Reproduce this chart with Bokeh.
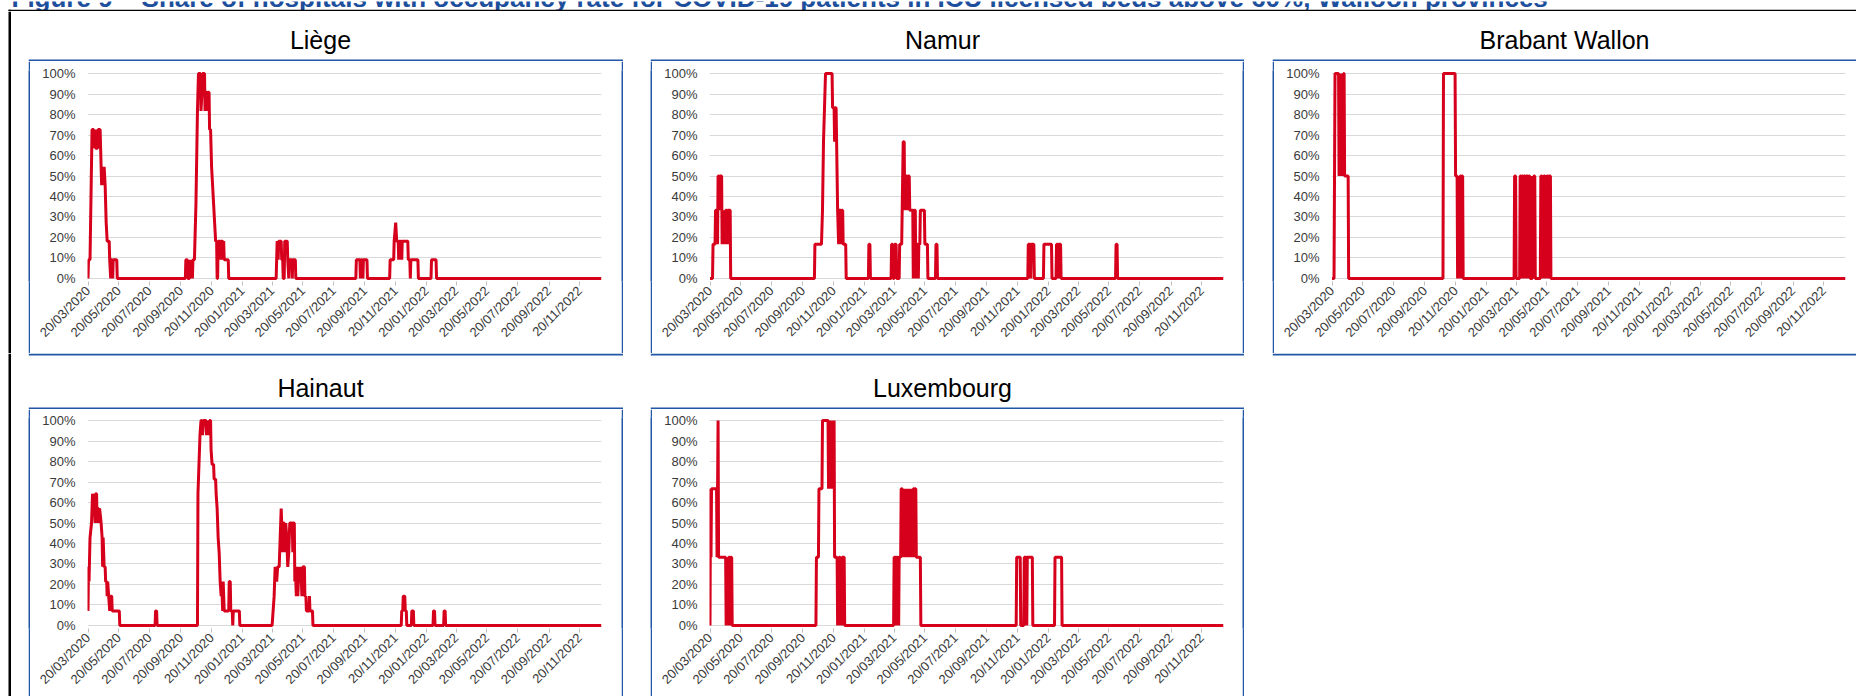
import math
import pandas as pd
from bokeh.plotting import figure
from bokeh.models import (Range1d, FixedTicker, DatetimeTickFormatter, PrintfTickFormatter,
                          BoxAnnotation, Label, ColumnDataSource, Spacer)
from bokeh.layouts import column, row
from bokeh.embed import file_html
from bokeh.resources import INLINE
from bokeh.core.validation import silence
from bokeh.core.validation.warnings import MISSING_RENDERERS

silence(MISSING_RENDERERS, True)

TITLE = ("Figure 9 \u2013 Share of hospitals with occupancy rate for COVID-19 patients "
         "in ICU licensed beds above 60%, Walloon provinces")

TICK_DATES = ["2020-03-20", "2020-05-20", "2020-07-20", "2020-09-20", "2020-11-20",
              "2021-01-20", "2021-03-20", "2021-05-20", "2021-07-20", "2021-09-20",
              "2021-11-20", "2022-01-20", "2022-03-20", "2022-05-20", "2022-07-20",
              "2022-09-20", "2022-11-20"]
Y_TICKS = [0, 10, 20, 30, 40, 50, 60, 70, 80, 90, 100]
X_START, X_END = "2020-03-19", "2023-01-02"

LIEGE = [
    ("2020-03-20", 0), ("2020-03-21", 9.1), ("2020-03-24", 9.1), ("2020-03-28", 72.7), ("2020-03-31", 72.7),
    ("2020-04-01", 63.6), ("2020-04-03", 72.7), ("2020-04-04", 63.6), ("2020-04-08", 63.6), ("2020-04-09", 72.7),
    ("2020-04-13", 72.7), ("2020-04-14", 63.6), ("2020-04-15", 54.5), ("2020-04-16", 45.5), ("2020-04-18", 54.5),
    ("2020-04-19", 45.5), ("2020-04-21", 54.5), ("2020-04-23", 45.5), ("2020-04-25", 27.3), ("2020-04-27", 18.2),
    ("2020-05-01", 18.2), ("2020-05-02", 9.1), ("2020-05-04", 0), ("2020-05-05", 9.1), ("2020-05-07", 9.1),
    ("2020-05-08", 0), ("2020-05-09", 9.1), ("2020-05-16", 9.1), ("2020-05-17", 0),
    ("2020-09-29", 0), ("2020-09-30", 9.1), ("2020-10-03", 9.1), ("2020-10-04", 0), ("2020-10-07", 0),
    ("2020-10-08", 9.1), ("2020-10-10", 0), ("2020-10-12", 9.1), ("2020-10-13", 0), ("2020-10-14", 9.1),
    ("2020-10-17", 9.1), ("2020-10-20", 36.4), ("2020-10-23", 81.8), ("2020-10-25", 100), ("2020-10-29", 100),
    ("2020-10-30", 81.8), ("2020-11-01", 90.9), ("2020-11-02", 100), ("2020-11-06", 100), ("2020-11-07", 81.8),
    ("2020-11-08", 90.9), ("2020-11-11", 90.9), ("2020-11-12", 81.8), ("2020-11-13", 90.9), ("2020-11-15", 90.9),
    ("2020-11-16", 72.7), ("2020-11-18", 72.7), ("2020-11-20", 54.5), ("2020-11-22", 45.5), ("2020-11-24", 36.4),
    ("2020-11-26", 27.3), ("2020-11-28", 18.2), ("2020-11-30", 18.2), ("2020-12-01", 0), ("2020-12-02", 0),
    ("2020-12-03", 18.2), ("2020-12-06", 18.2), ("2020-12-07", 9.1), ("2020-12-08", 18.2), ("2020-12-12", 18.2),
    ("2020-12-13", 9.1), ("2020-12-14", 18.2), ("2020-12-15", 9.1), ("2020-12-23", 9.1), ("2020-12-24", 0),
    ("2021-03-28", 0), ("2021-03-30", 18.2), ("2021-04-01", 9.1), ("2021-04-02", 18.2), ("2021-04-07", 18.2),
    ("2021-04-08", 9.1), ("2021-04-10", 9.1), ("2021-04-11", 0), ("2021-04-13", 0), ("2021-04-14", 18.2),
    ("2021-04-19", 18.2), ("2021-04-20", 9.1), ("2021-04-22", 0), ("2021-04-23", 9.1), ("2021-04-28", 9.1),
    ("2021-04-29", 0), ("2021-04-30", 9.1), ("2021-05-05", 9.1), ("2021-05-06", 0),
    ("2021-09-02", 0), ("2021-09-03", 9.1), ("2021-09-10", 9.1), ("2021-09-11", 0), ("2021-09-12", 9.1),
    ("2021-09-15", 9.1), ("2021-09-16", 0), ("2021-09-17", 9.1), ("2021-09-24", 9.1), ("2021-09-25", 0),
    ("2021-11-08", 0), ("2021-11-09", 9.1), ("2021-11-16", 9.1), ("2021-11-17", 18.2), ("2021-11-20", 27.3),
    ("2021-11-22", 18.2), ("2021-11-25", 18.2), ("2021-11-26", 9.1), ("2021-11-27", 18.2), ("2021-12-01", 18.2),
    ("2021-12-02", 9.1), ("2021-12-03", 18.2), ("2021-12-14", 18.2), ("2021-12-15", 9.1), ("2021-12-18", 9.1),
    ("2021-12-19", 0), ("2021-12-20", 9.1), ("2022-01-03", 9.1), ("2022-01-04", 0),
    ("2022-01-29", 0), ("2022-01-30", 9.1), ("2022-02-08", 9.1), ("2022-02-09", 0),
    ("2023-01-02", 0),
]

NAMUR = [
    ("2020-03-20", 0), ("2020-03-25", 0), ("2020-03-26", 16.7), ("2020-03-30", 16.7), ("2020-03-31", 33.3),
    ("2020-04-03", 33.3), ("2020-04-04", 16.7), ("2020-04-05", 50), ("2020-04-07", 50), ("2020-04-08", 33.3),
    ("2020-04-09", 50), ("2020-04-12", 50), ("2020-04-13", 16.7), ("2020-04-14", 33.3), ("2020-04-16", 16.7),
    ("2020-04-17", 33.3), ("2020-04-19", 16.7), ("2020-04-20", 33.3), ("2020-04-23", 33.3), ("2020-04-24", 16.7),
    ("2020-04-25", 33.3), ("2020-04-29", 33.3), ("2020-04-30", 0),
    ("2020-10-13", 0), ("2020-10-14", 16.7), ("2020-10-27", 16.7), ("2020-10-29", 33.3), ("2020-10-31", 66.7),
    ("2020-11-02", 83.3), ("2020-11-04", 100), ("2020-11-17", 100), ("2020-11-18", 83.3), ("2020-11-21", 83.3),
    ("2020-11-22", 66.7), ("2020-11-23", 83.3), ("2020-11-25", 83.3), ("2020-11-27", 50), ("2020-11-28", 33.3),
    ("2020-11-30", 16.7), ("2020-12-01", 33.3), ("2020-12-04", 33.3), ("2020-12-05", 16.7), ("2020-12-06", 33.3),
    ("2020-12-08", 33.3), ("2020-12-09", 16.7), ("2020-12-14", 16.7), ("2020-12-15", 0),
    ("2021-01-28", 0), ("2021-01-29", 16.7), ("2021-01-31", 16.7), ("2021-02-01", 0),
    ("2021-03-14", 0), ("2021-03-15", 16.7), ("2021-03-17", 16.7), ("2021-03-18", 0), ("2021-03-20", 0),
    ("2021-03-21", 16.7), ("2021-03-24", 16.7), ("2021-03-25", 0),
    ("2021-03-30", 0), ("2021-03-31", 16.7), ("2021-04-04", 16.7), ("2021-04-05", 33.3), ("2021-04-07", 66.7),
    ("2021-04-09", 66.7), ("2021-04-10", 33.3), ("2021-04-11", 50), ("2021-04-14", 50), ("2021-04-15", 33.3),
    ("2021-04-16", 50), ("2021-04-19", 50), ("2021-04-20", 33.3), ("2021-04-26", 33.3), ("2021-04-27", 0),
    ("2021-04-28", 33.3), ("2021-05-01", 33.3), ("2021-05-02", 0), ("2021-05-03", 16.7), ("2021-05-06", 16.7),
    ("2021-05-07", 0), ("2021-05-08", 16.7), ("2021-05-10", 16.7), ("2021-05-11", 33.3), ("2021-05-19", 33.3),
    ("2021-05-20", 16.7), ("2021-05-25", 16.7), ("2021-05-26", 0),
    ("2021-06-10", 0), ("2021-06-11", 16.7), ("2021-06-13", 16.7), ("2021-06-14", 0),
    ("2021-12-10", 0), ("2021-12-11", 16.7), ("2021-12-15", 16.7), ("2021-12-16", 0), ("2021-12-17", 16.7),
    ("2021-12-22", 16.7), ("2021-12-23", 0),
    ("2022-01-10", 0), ("2022-01-11", 16.7), ("2022-01-26", 16.7), ("2022-01-27", 0),
    ("2022-02-04", 0), ("2022-02-05", 16.7), ("2022-02-07", 16.7), ("2022-02-08", 0), ("2022-02-09", 16.7),
    ("2022-02-13", 16.7), ("2022-02-14", 0),
    ("2022-06-02", 0), ("2022-06-03", 16.7), ("2022-06-05", 16.7), ("2022-06-06", 0),
    ("2023-01-02", 0),
]

BRABANT_WALLON = [
    ("2020-03-20", 0), ("2020-03-24", 0), ("2020-03-25", 50), ("2020-03-26", 100), ("2020-04-02", 100),
    ("2020-04-03", 50), ("2020-04-04", 100), ("2020-04-05", 50), ("2020-04-06", 100), ("2020-04-07", 50),
    ("2020-04-08", 100), ("2020-04-09", 50), ("2020-04-10", 100), ("2020-04-11", 50), ("2020-04-12", 100),
    ("2020-04-13", 100), ("2020-04-14", 50), ("2020-04-21", 50), ("2020-04-22", 0),
    ("2020-10-26", 0), ("2020-10-27", 100), ("2020-11-19", 100), ("2020-11-20", 50), ("2020-11-23", 50),
    ("2020-11-24", 0), ("2020-11-25", 50), ("2020-11-26", 0), ("2020-11-27", 50), ("2020-11-28", 0),
    ("2020-11-29", 50), ("2020-11-30", 50), ("2020-12-01", 0), ("2020-12-02", 50), ("2020-12-04", 50),
    ("2020-12-05", 0),
    ("2021-03-16", 0), ("2021-03-17", 50), ("2021-03-19", 50), ("2021-03-20", 0), ("2021-03-27", 0),
    ("2021-03-28", 50), ("2021-03-30", 50), ("2021-03-31", 0), ("2021-04-01", 50), ("2021-04-03", 50),
    ("2021-04-04", 0), ("2021-04-05", 50), ("2021-04-07", 50), ("2021-04-08", 0), ("2021-04-09", 50),
    ("2021-04-12", 50), ("2021-04-13", 0), ("2021-04-14", 50), ("2021-04-16", 50), ("2021-04-17", 0),
    ("2021-04-21", 0), ("2021-04-22", 50), ("2021-04-23", 0), ("2021-04-24", 50), ("2021-04-26", 50),
    ("2021-04-27", 0), ("2021-05-07", 0), ("2021-05-08", 50), ("2021-05-10", 50), ("2021-05-11", 0),
    ("2021-05-12", 50), ("2021-05-13", 0), ("2021-05-14", 50), ("2021-05-16", 50), ("2021-05-17", 0),
    ("2021-05-18", 50), ("2021-05-19", 0), ("2021-05-20", 50), ("2021-05-22", 50), ("2021-05-23", 0),
    ("2021-05-24", 50), ("2021-05-27", 50), ("2021-05-28", 0),
    ("2023-01-02", 0),
]

HAINAUT = [
    ("2020-03-20", 7.1), ("2020-03-21", 28.6), ("2020-03-22", 21.4), ("2020-03-24", 42.9), ("2020-03-27", 50),
    ("2020-03-29", 64.3), ("2020-03-31", 57.1), ("2020-04-01", 64.3), ("2020-04-03", 50), ("2020-04-04", 64.3),
    ("2020-04-06", 64.3), ("2020-04-07", 50), ("2020-04-08", 57.1), ("2020-04-10", 57.1), ("2020-04-11", 50),
    ("2020-04-12", 57.1), ("2020-04-15", 50), ("2020-04-17", 42.9), ("2020-04-18", 28.6), ("2020-04-19", 42.9),
    ("2020-04-21", 28.6), ("2020-04-23", 28.6), ("2020-04-24", 21.4), ("2020-04-26", 21.4), ("2020-04-27", 14.3),
    ("2020-04-28", 21.4), ("2020-04-30", 14.3), ("2020-05-02", 7.1), ("2020-05-04", 14.3), ("2020-05-06", 14.3),
    ("2020-05-07", 7.1), ("2020-05-21", 7.1), ("2020-05-22", 0),
    ("2020-07-31", 0), ("2020-08-01", 7.1), ("2020-08-03", 7.1), ("2020-08-04", 0),
    ("2020-10-23", 0), ("2020-10-24", 64.3), ("2020-10-26", 78.6), ("2020-10-28", 92.9), ("2020-10-30", 100),
    ("2020-11-01", 100), ("2020-11-02", 92.9), ("2020-11-04", 100), ("2020-11-09", 100), ("2020-11-10", 92.9),
    ("2020-11-12", 100), ("2020-11-14", 92.9), ("2020-11-16", 100), ("2020-11-18", 100), ("2020-11-19", 85.7),
    ("2020-11-21", 78.6), ("2020-11-24", 78.6), ("2020-11-25", 71.4), ("2020-11-28", 71.4), ("2020-11-29", 64.3),
    ("2020-12-01", 57.1), ("2020-12-03", 42.9), ("2020-12-05", 35.7), ("2020-12-07", 21.4), ("2020-12-09", 14.3),
    ("2020-12-10", 21.4), ("2020-12-12", 7.1), ("2020-12-13", 21.4), ("2020-12-14", 14.3), ("2020-12-15", 7.1),
    ("2020-12-24", 7.1), ("2020-12-25", 21.4), ("2020-12-27", 21.4), ("2020-12-28", 7.1), ("2020-12-31", 7.1),
    ("2021-01-01", 0), ("2021-01-02", 7.1), ("2021-01-14", 7.1), ("2021-01-15", 0),
    ("2021-03-20", 0), ("2021-03-22", 7.1), ("2021-03-24", 14.3), ("2021-03-26", 28.6), ("2021-03-29", 21.4),
    ("2021-03-31", 28.6), ("2021-04-03", 28.6), ("2021-04-05", 42.9), ("2021-04-07", 57.1), ("2021-04-08", 50),
    ("2021-04-09", 35.7), ("2021-04-11", 50), ("2021-04-13", 50), ("2021-04-14", 35.7), ("2021-04-16", 50),
    ("2021-04-18", 42.9), ("2021-04-20", 28.6), ("2021-04-22", 35.7), ("2021-04-24", 50), ("2021-04-29", 50),
    ("2021-04-30", 35.7), ("2021-05-01", 50), ("2021-05-03", 50), ("2021-05-04", 21.4), ("2021-05-05", 28.6),
    ("2021-05-07", 14.3), ("2021-05-08", 28.6), ("2021-05-10", 14.3), ("2021-05-12", 28.6), ("2021-05-14", 21.4),
    ("2021-05-16", 28.6), ("2021-05-18", 14.3), ("2021-05-20", 28.6), ("2021-05-23", 28.6), ("2021-05-24", 14.3),
    ("2021-05-26", 14.3), ("2021-05-27", 7.1), ("2021-06-01", 7.1), ("2021-06-02", 14.3), ("2021-06-03", 7.1),
    ("2021-06-08", 7.1), ("2021-06-09", 0),
    ("2021-12-01", 0), ("2021-12-02", 7.1), ("2021-12-04", 7.1), ("2021-12-05", 14.3), ("2021-12-08", 14.3),
    ("2021-12-09", 7.1), ("2021-12-11", 7.1), ("2021-12-12", 0), ("2021-12-21", 0), ("2021-12-22", 7.1),
    ("2021-12-25", 7.1), ("2021-12-26", 0),
    ("2022-02-02", 0), ("2022-02-03", 7.1), ("2022-02-05", 7.1), ("2022-02-06", 0),
    ("2022-02-23", 0), ("2022-02-24", 7.1), ("2022-02-26", 7.1), ("2022-02-27", 0),
    ("2023-01-02", 0),
]

LUXEMBOURG = [
    ("2020-03-20", 0), ("2020-03-21", 66.7), ("2020-03-22", 33.3), ("2020-03-23", 66.7), ("2020-04-02", 66.7),
    ("2020-04-03", 33.3), ("2020-04-05", 100), ("2020-04-06", 33.3), ("2020-04-20", 33.3), ("2020-04-21", 0),
    ("2020-04-22", 33.3), ("2020-04-23", 0), ("2020-04-24", 33.3), ("2020-04-25", 0), ("2020-04-26", 33.3),
    ("2020-04-28", 33.3), ("2020-04-29", 0), ("2020-04-30", 33.3), ("2020-05-02", 33.3), ("2020-05-03", 0),
    ("2020-10-16", 0), ("2020-10-17", 33.3), ("2020-10-21", 33.3), ("2020-10-22", 66.7), ("2020-10-28", 66.7),
    ("2020-10-29", 100), ("2020-11-09", 100), ("2020-11-10", 66.7), ("2020-11-11", 100), ("2020-11-12", 66.7),
    ("2020-11-13", 100), ("2020-11-14", 66.7), ("2020-11-15", 100), ("2020-11-16", 66.7), ("2020-11-17", 100),
    ("2020-11-18", 66.7), ("2020-11-19", 100), ("2020-11-20", 66.7), ("2020-11-21", 100), ("2020-11-22", 33.3),
    ("2020-11-27", 33.3), ("2020-11-28", 0), ("2020-11-29", 33.3), ("2020-11-30", 0), ("2020-12-01", 33.3),
    ("2020-12-03", 33.3), ("2020-12-04", 0), ("2020-12-05", 33.3), ("2020-12-06", 0), ("2020-12-07", 33.3),
    ("2020-12-11", 33.3), ("2020-12-12", 0),
    ("2021-03-19", 0), ("2021-03-20", 33.3), ("2021-03-23", 33.3), ("2021-03-24", 0), ("2021-03-25", 33.3),
    ("2021-03-28", 33.3), ("2021-03-29", 0), ("2021-03-30", 33.3), ("2021-04-02", 33.3), ("2021-04-03", 66.7),
    ("2021-04-05", 66.7), ("2021-04-06", 33.3), ("2021-04-07", 66.7), ("2021-04-08", 33.3), ("2021-04-09", 66.7),
    ("2021-04-10", 33.3), ("2021-04-11", 66.7), ("2021-04-12", 33.3), ("2021-04-13", 66.7), ("2021-04-14", 33.3),
    ("2021-04-15", 66.7), ("2021-04-16", 33.3), ("2021-04-17", 66.7), ("2021-04-18", 33.3), ("2021-04-19", 66.7),
    ("2021-04-20", 33.3), ("2021-04-21", 66.7), ("2021-04-22", 33.3), ("2021-04-23", 66.7), ("2021-04-24", 33.3),
    ("2021-04-25", 66.7), ("2021-04-26", 33.3), ("2021-04-27", 66.7), ("2021-04-29", 66.7), ("2021-04-30", 33.3),
    ("2021-05-01", 66.7), ("2021-05-02", 66.7), ("2021-05-03", 33.3), ("2021-05-11", 33.3), ("2021-05-12", 0),
    ("2021-11-17", 0), ("2021-11-18", 33.3), ("2021-11-25", 33.3), ("2021-11-26", 0), ("2021-12-02", 0),
    ("2021-12-03", 33.3), ("2021-12-07", 33.3), ("2021-12-08", 0), ("2021-12-09", 33.3), ("2021-12-19", 33.3),
    ("2021-12-20", 0),
    ("2022-02-01", 0), ("2022-02-02", 33.3), ("2022-02-15", 33.3), ("2022-02-16", 0),
    ("2023-01-02", 0),
]

TITLE_BLUE = "#1d4f9c"
BOX_BLUE = "#2157a5"
RED = "#d6001c"
GRID = "#d9d9d9"
LABEL = "#3a3a3a"
FONT = "Liberation Sans"
LABEL_SHIFT = 10  # Label text sits this much below its y in the SVG output

TICKS_MS = [pd.Timestamp(d).value // 10**6 for d in TICK_DATES]


def blank(w, h, fill="white"):
    f = figure(width=w, height=h, title=None, x_axis_type=None, y_axis_type=None,
               x_range=Range1d(0, w), y_range=Range1d(h, 0),
               output_backend="svg", toolbar_location=None, min_border=0)
    f.outline_line_color = None
    f.xgrid.grid_line_color = None
    f.ygrid.grid_line_color = None
    f.background_fill_color = fill
    f.border_fill_color = fill
    return f


def bar(f, left, right, top, bottom, color):
    f.add_layout(BoxAnnotation(left=left, right=right, top=top, bottom=bottom,
                               left_units="canvas", right_units="canvas",
                               top_units="canvas", bottom_units="canvas",
                               fill_color=color, fill_alpha=1, line_color=None))


def make_plot(series, width, height, ml, mr, mt, mb):
    dates = pd.to_datetime([d for d, _ in series])
    vals = [v for _, v in series]
    src = ColumnDataSource(data=dict(x=dates, y=vals))
    p = figure(width=width, height=height, x_axis_type="datetime", title=None,
               x_range=Range1d(pd.Timestamp(X_START), pd.Timestamp(X_END)),
               y_range=Range1d(-1.5, 101.5),
               output_backend="svg", toolbar_location=None,
               min_border_left=ml, min_border_right=mr,
               min_border_top=mt, min_border_bottom=mb)
    p.line("x", "y", source=src, line_color=RED, line_width=3)

    p.xaxis.ticker = FixedTicker(ticks=TICKS_MS, minor_ticks=[])
    p.xaxis.formatter = DatetimeTickFormatter(days="%d/%m/%Y", months="%d/%m/%Y", years="%d/%m/%Y")
    p.xaxis.major_label_orientation = math.pi / 4
    p.xaxis.major_label_text_font = FONT
    p.xaxis.major_label_text_font_size = "13px"
    p.xaxis.major_label_text_color = LABEL
    p.xaxis.axis_line_color = None
    p.xaxis.major_tick_line_color = "#bfbfbf"
    p.xaxis.major_tick_out = 4
    p.xaxis.major_tick_in = 0
    p.xaxis.minor_tick_line_color = None
    p.xaxis.major_label_standoff = 3

    p.yaxis.ticker = FixedTicker(ticks=Y_TICKS, minor_ticks=[])
    p.yaxis.formatter = PrintfTickFormatter(format="%d%%")
    p.yaxis.major_label_text_font = FONT
    p.yaxis.major_label_text_font_size = "13px"
    p.yaxis.major_label_text_color = LABEL
    p.yaxis.axis_line_color = None
    p.yaxis.major_tick_line_color = None
    p.yaxis.major_tick_out = 0
    p.yaxis.major_tick_in = 0
    p.yaxis.minor_tick_line_color = None
    p.yaxis.major_label_standoff = 12

    p.xgrid.grid_line_color = None
    p.ygrid.grid_line_color = GRID
    p.outline_line_color = None
    return p


def title_fig(name, w, h, baseline, closes_above=False):
    t = blank(w, h)
    if name:
        t.add_layout(Label(x=292, y=baseline - LABEL_SHIFT, x_units="canvas", y_units="canvas",
                           text=name, text_align="center", text_baseline="alphabetic",
                           text_font=FONT, text_font_size="25px", text_color="black"))
        # top edge of this panel's box
        bar(t, 0, w, h - 2, h, BOX_BLUE)
    if closes_above:
        # bottom edge of the box in the row above
        bar(t, 0, w, 0, 2, BOX_BLUE)
    return t


def panel(name, series, outer_w, title_h, baseline, mid_h, right_side, closes_above, ml, mr, mt, mb):
    inner_w = outer_w - 2 - (2 if right_side else 0)
    t = title_fig(name, outer_w, title_h, baseline, closes_above)
    p = make_plot(series, inner_w, mid_h, ml, mr, mt, mb)
    mid = [blank(2, mid_h, BOX_BLUE), p]
    if right_side:
        mid.append(blank(2, mid_h, BOX_BLUE))
    return column(t, row(*mid, spacing=0), spacing=0)


header = blank(1856, 11)
header.add_layout(Label(x=11, y=6.5 - LABEL_SHIFT, x_units="canvas", y_units="canvas", text=TITLE,
                        text_align="left", text_baseline="alphabetic", text_font=FONT,
                        text_font_size="26px", text_font_style="bold", text_color=TITLE_BLUE))
bar(header, 8, 1856, 8.3, 10.5, "black")
bar(header, 8, 10.5, 8.3, 11, "black")

strip1 = blank(28, 342)
bar(strip1, 8, 10.5, 0, 342, "black")
strip2 = blank(28, 343)
bar(strip2, 8, 10.5, 0, 343, "black")

# upper row: title block 50 (incl. box top edge), box body 292
c_liege = panel("Liège", LIEGE, 595, 50, 38.3, 292, True, False, 57, 20, 9, 72)
c_namur = panel("Namur", NAMUR, 594, 50, 38.3, 292, True, False, 57, 19, 9, 72)
c_brabant = panel("Brabant Wallon", BRABANT_WALLON, 584, 50, 38.3, 292, False, False, 57, 11, 9, 72)
# lower row: title block 56 (closes the upper boxes, opens these), body runs past the bottom edge
c_hainaut = panel("Hainaut", HAINAUT, 595, 56, 44.3, 287, True, True, 57, 20, 8, 68)
c_lux = panel("Luxembourg", LUXEMBOURG, 594, 56, 44.3, 287, True, True, 57, 19, 8, 68)
closer = title_fig("", 584, 56, 44.3, True)

row1 = row(strip1, c_liege, Spacer(width=27, height=342), c_namur,
           Spacer(width=28, height=342), c_brabant, spacing=0)
row2 = row(strip2, c_hainaut, Spacer(width=27, height=343), c_lux,
           Spacer(width=28, height=343), column(closer, Spacer(width=584, height=287), spacing=0),
           spacing=0)

root = column(header, row1, row2, spacing=0)

open("out.html", "w").write(file_html(root, INLINE, title="Walloon provinces ICU occupancy"))
